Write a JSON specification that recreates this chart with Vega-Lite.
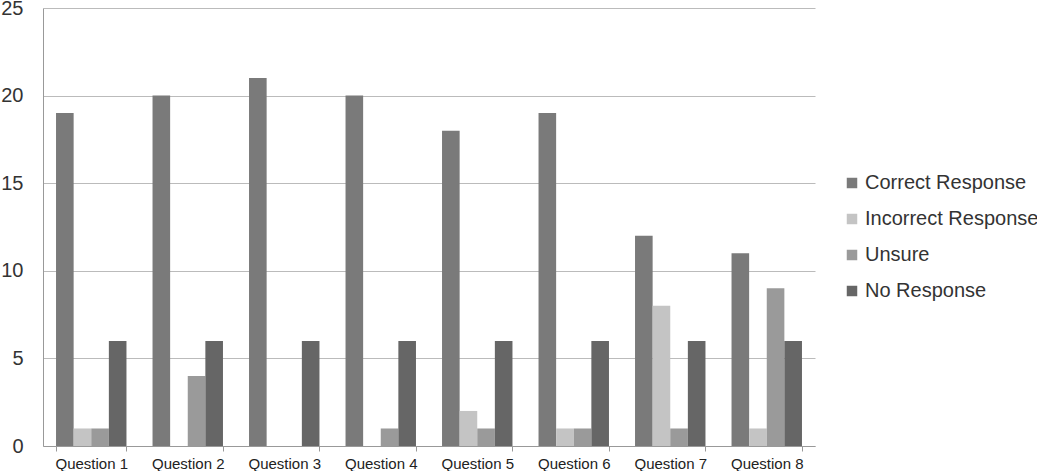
{
  "$schema": "https://vega.github.io/schema/vega-lite/v6.json",
  "width": 772,
  "height": 438,
  "autosize": {"type": "none"},
  "padding": {"left": 43, "top": 8, "right": 222, "bottom": 25},
  "background": "white",
  "config": {
    "font": "Liberation Sans",
    "view": {"stroke": null}
  },
  "data": {
    "values": [
      {"q": "Question 1", "s": "Correct Response", "v": 19},
      {"q": "Question 1", "s": "Incorrect Response", "v": 1},
      {"q": "Question 1", "s": "Unsure", "v": 1},
      {"q": "Question 1", "s": "No Response", "v": 6},
      {"q": "Question 2", "s": "Correct Response", "v": 20},
      {"q": "Question 2", "s": "Incorrect Response", "v": 0},
      {"q": "Question 2", "s": "Unsure", "v": 4},
      {"q": "Question 2", "s": "No Response", "v": 6},
      {"q": "Question 3", "s": "Correct Response", "v": 21},
      {"q": "Question 3", "s": "Incorrect Response", "v": 0},
      {"q": "Question 3", "s": "Unsure", "v": 0},
      {"q": "Question 3", "s": "No Response", "v": 6},
      {"q": "Question 4", "s": "Correct Response", "v": 20},
      {"q": "Question 4", "s": "Incorrect Response", "v": 0},
      {"q": "Question 4", "s": "Unsure", "v": 1},
      {"q": "Question 4", "s": "No Response", "v": 6},
      {"q": "Question 5", "s": "Correct Response", "v": 18},
      {"q": "Question 5", "s": "Incorrect Response", "v": 2},
      {"q": "Question 5", "s": "Unsure", "v": 1},
      {"q": "Question 5", "s": "No Response", "v": 6},
      {"q": "Question 6", "s": "Correct Response", "v": 19},
      {"q": "Question 6", "s": "Incorrect Response", "v": 1},
      {"q": "Question 6", "s": "Unsure", "v": 1},
      {"q": "Question 6", "s": "No Response", "v": 6},
      {"q": "Question 7", "s": "Correct Response", "v": 12},
      {"q": "Question 7", "s": "Incorrect Response", "v": 8},
      {"q": "Question 7", "s": "Unsure", "v": 1},
      {"q": "Question 7", "s": "No Response", "v": 6},
      {"q": "Question 8", "s": "Correct Response", "v": 11},
      {"q": "Question 8", "s": "Incorrect Response", "v": 1},
      {"q": "Question 8", "s": "Unsure", "v": 9},
      {"q": "Question 8", "s": "No Response", "v": 6}
    ]
  },
  "mark": {"type": "bar"},
  "encoding": {
    "x": {
      "field": "q", "type": "nominal", "title": null,
      "scale": {"paddingInner": 0.27, "paddingOuter": 0.135},
      "axis": {
        "labelAngle": 0, "labelFontSize": 15, "labelColor": "#222", "labelPadding": 5,
        "domainColor": "#999", "tickColor": "#999", "tickBand": "extent", "tickSize": 5, "grid": false
      }
    },
    "xOffset": {
      "field": "s", "type": "nominal",
      "sort": ["Correct Response", "Incorrect Response", "Unsure", "No Response"],
      "scale": {"paddingInner": 0, "paddingOuter": 0}
    },
    "y": {
      "field": "v", "type": "quantitative", "title": null,
      "scale": {"domain": [0, 25], "nice": false},
      "axis": {
        "values": [0, 5, 10, 15, 20, 25], "labelFontSize": 20, "labelColor": "#333",
        "labelPadding": 20, "ticks": false, "domain": true, "domainColor": "#999",
        "gridColor": "#bbb", "labelFont": "Liberation Sans"
      }
    },
    "color": {
      "field": "s", "type": "nominal", "title": null,
      "sort": ["Correct Response", "Incorrect Response", "Unsure", "No Response"],
      "scale": {
        "domain": ["Correct Response", "Incorrect Response", "Unsure", "No Response"],
        "range": ["#7a7a7a", "#c4c4c4", "#9a9a9a", "#666666"]
      },
      "legend": {
        "orient": "none", "legendX": 799, "legendY": 165,
        "symbolType": "square", "symbolSize": 110, "symbolStrokeWidth": 0,
        "labelFontSize": 20, "labelColor": "#333", "rowPadding": 16, "labelOffset": 3,
        "labelLimit": 400
      }
    }
  }
}
